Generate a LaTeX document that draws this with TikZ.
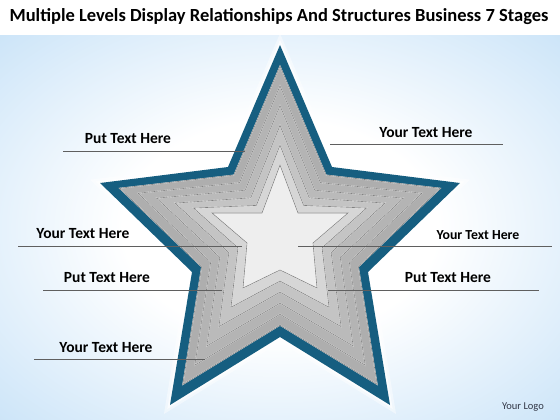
\documentclass[tikz,border=0pt]{standalone}
\usepackage{fontspec}
\setmainfont{Carlito}
\usetikzlibrary{calc}
\definecolor{tealA}{RGB}{22,94,128}
\definecolor{bgblue}{RGB}{180,216,245}
\definecolor{linegray}{RGB}{95,95,95}
\definecolor{logoc}{RGB}{50,55,70}
\definecolor{gA}{RGB}{174,174,174}
\definecolor{gB}{RGB}{180,180,180}
\definecolor{gC}{RGB}{186,186,186}
\definecolor{gD}{RGB}{196,196,196}
\definecolor{gE}{RGB}{214,214,214}
\definecolor{gF}{RGB}{238,238,238}
\pgfdeclareradialshading{bgshade}{\pgfpoint{0bp}{0bp}}{color(0bp)=(white);color(14bp)=(white);color(46bp)=(bgblue);color(72bp)=(bgblue)}
\begin{document}
\begin{tikzpicture}[x=1pt,y=-1pt,
  lbl/.style={font=\bfseries\fontsize{15.5}{18}\selectfont, text=black, inner sep=0pt},
  lblsmall/.style={font=\bfseries\fontsize{13.8}{16}\selectfont, text=black, inner sep=0pt},
  conn/.style={draw=linegray, line width=0.7pt},
  edgeline/.style={draw={rgb,255:red,130;green,130;blue,130}, line width=0.6pt, line join=miter}]
\useasboundingbox (0,0) rectangle (560,420);
\fill[white] (0,0) rectangle (560,420);
\shade[shading=bgshade] (0,36) rectangle (560,420);
% star vertices
\coordinate (O1) at (280,45);  \coordinate (I1) at (280,165);
\coordinate (O2) at (332,167); \coordinate (I2) at (298,213);
\coordinate (O3) at (460,183); \coordinate (I3) at (348,213);
\coordinate (O4) at (368,272); \coordinate (I4) at (313,243);
\coordinate (O5) at (390,405); \coordinate (I5) at (317,288);
\coordinate (O6) at (280,337); \coordinate (I6) at (280,270);
\coordinate (O7) at (170,405); \coordinate (I7) at (243,288);
\coordinate (O8) at (192,272); \coordinate (I8) at (247,243);
\coordinate (O9) at (100,183); \coordinate (I9) at (212,213);
\coordinate (O10) at (228,167);\coordinate (I10) at (262,213);
% glow
\draw[white, line width=9pt, opacity=0.45, line join=miter] (O1) \foreach \k in {2,...,10} { -- (O\k) } -- cycle;
\draw[white, line width=4pt, opacity=0.7, line join=miter] (O1) \foreach \k in {2,...,10} { -- (O\k) } -- cycle;
% layers
\fill[tealA] (O1) \foreach \k in {2,...,10} { -- (O\k) } -- cycle;
\foreach \t/\c in {0.175/gA, 0.34/gB, 0.505/gC, 0.67/gD, 0.835/gE, 1/gF} {
  \fill[\c] ($(O1)!\t!(I1)$) \foreach \k in {2,...,10} { -- ($(O\k)!\t!(I\k)$) } -- cycle;
  \draw[white, line width=0.9pt, line join=miter, shift={(0,1.3)}] ($(O1)!\t!(I1)$) \foreach \k in {2,...,10} { -- ($(O\k)!\t!(I\k)$) } -- cycle;
  \draw[edgeline] ($(O1)!\t!(I1)$) \foreach \k in {2,...,10} { -- ($(O\k)!\t!(I\k)$) } -- cycle;
}
% title
\node[font=\bfseries\fontsize{18.5}{22}\selectfont, inner sep=0pt] (title) at (279,17) {Multiple Levels Display Relationships And Structures Business 7 Stages};
% labels
\node[lbl] (t1) at (128,139) {Put Text Here};
\coordinate (a1) at (63,151); \coordinate (b1) at (245,151);
\draw[conn] (a1) -- (b1);
\node[lbl] (t2) at (426,133) {Your Text Here};
\coordinate (a2) at (330,144); \coordinate (b2) at (503,144);
\draw[conn] (a2) -- (b2);
\node[lbl] (t3) at (83,234) {Your Text Here};
\coordinate (a3) at (18,246); \coordinate (b3) at (242,246);
\draw[conn] (a3) -- (b3);
\node[lblsmall] (t4) at (478,235) {Your Text Here};
\coordinate (a4) at (298,246); \coordinate (b4) at (552,246);
\draw[conn] (a4) -- (b4);
\node[lbl] (t5) at (107,278) {Put Text Here};
\coordinate (a5) at (43,290); \coordinate (b5) at (222,290);
\draw[conn] (a5) -- (b5);
\node[lbl] (t6) at (448,278) {Put Text Here};
\coordinate (a6) at (328,290); \coordinate (b6) at (539,290);
\draw[conn] (a6) -- (b6);
\node[lbl] (t7) at (106,348) {Your Text Here};
\coordinate (a7) at (34,359); \coordinate (b7) at (205,359);
\draw[conn] (a7) -- (b7);
% logo
\node[font=\fontsize{10.5}{12}\selectfont, text=logoc, inner sep=0pt] (logo) at (523,407) {Your Logo};
\end{tikzpicture}
\end{document}
